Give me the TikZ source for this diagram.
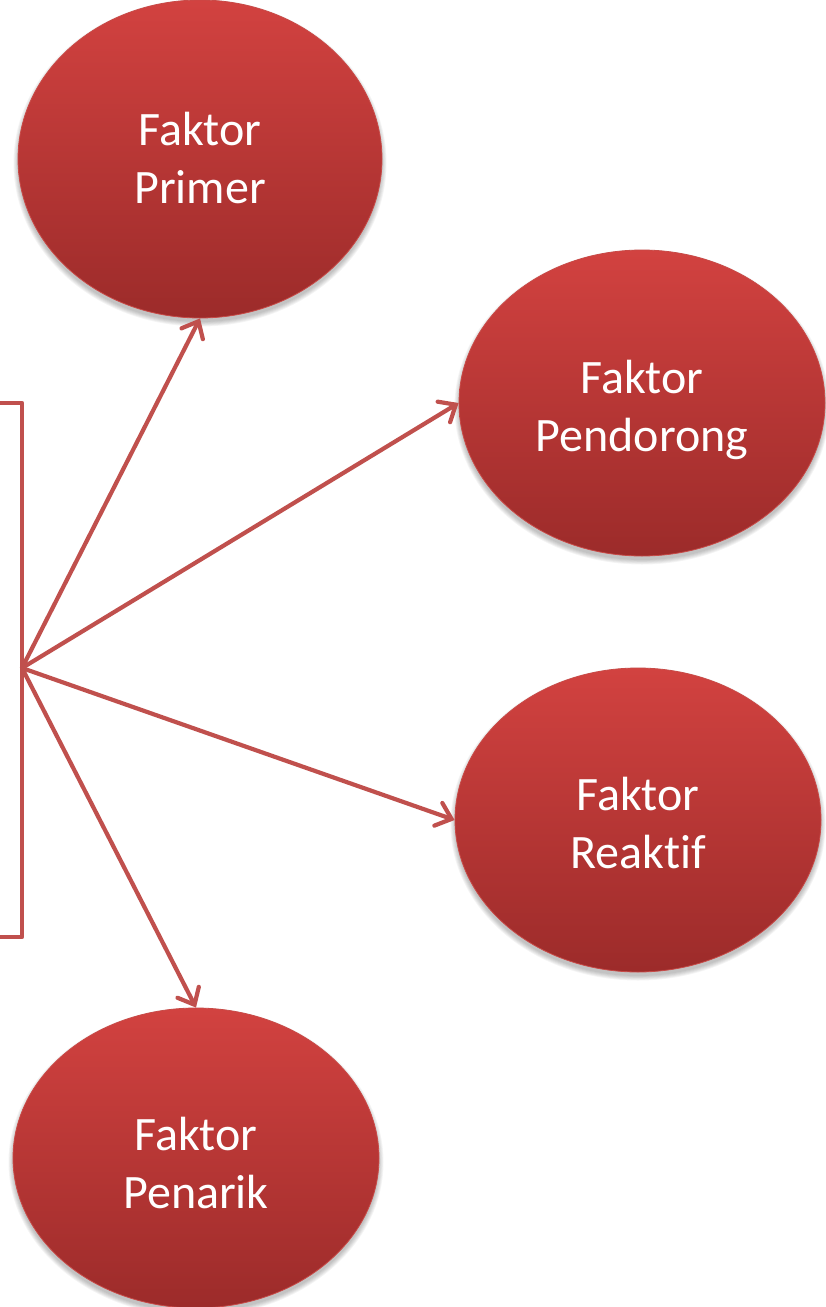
\documentclass[tikz,border=0pt]{standalone}
\usepackage{fontspec}
\setmainfont{Carlito}[Ligatures=NoCommon]
\usetikzlibrary{shapes.geometric,arrows.meta}
\definecolor{linkred}{HTML}{C0504D}
\definecolor{balltop}{HTML}{D24240}
\definecolor{ballbot}{HTML}{9C2B2A}
\definecolor{ballrim}{HTML}{C84A47}
\tikzset{
  factor/.style={ellipse, inner sep=0pt, top color=balltop, bottom color=ballbot,
    draw=ballrim, line width=0.8pt, text=white,
    font=\fontsize{48}{58}\selectfont},
  link/.style={draw=linkred, line width=4.2pt, line cap=round,
    -{Straight Barb[length=14pt,width=24pt,line cap=round]}},
  bracket/.style={draw=linkred, line width=4.2pt, line join=round}
}
% soft shadow under an ellipse: centre, half width, half height
\newcommand\ballshadow[3]{%
  \foreach \k in {0,...,5}{
    \fill[black, opacity=0.045] (#1) ++(0,4) ellipse ({#2+\k*0.9} and {#3+\k*0.9});
  }}
% two centred lines of a label, shifted by #1 around the node centre
\newcommand\twolines[3]{\raisebox{#1}[0pt][0pt]{\begin{tabular}{@{}c@{}}#2\\#3\end{tabular}}}
\begin{document}
\begin{tikzpicture}[x=1pt,y=-1pt]
\useasboundingbox (0,0) rectangle (825,1307);
\ballshadow{200,159}{182}{159}
\ballshadow{642,403}{183}{153}
\ballshadow{638,820}{183}{152}
\ballshadow{196,1158}{183}{150}
\node[factor, minimum width=364pt, minimum height=318pt] (primer) at (200,159) {\twolines{-10pt}{Faktor}{Primer}};
\node[factor, minimum width=366pt, minimum height=306pt] (pendorong) at (642,403) {\twolines{-14pt}{Faktor}{Pendorong}};
\node[factor, minimum width=366pt, minimum height=304pt] (reaktif) at (638,820) {\twolines{-14pt}{Faktor}{Reaktif}};
\node[factor, minimum width=366pt, minimum height=300pt] (penarik) at (196,1158) {\twolines{-16pt}{Faktor}{Penarik}};
\coordinate (hub) at (22,668);
\draw[bracket] (0,403) -- (22,403) -- (22,937) -- (0,937);
\draw[link] (hub) -- (primer.south);
\draw[link] (hub) -- (pendorong.west);
\draw[link] (hub) -- (reaktif.west);
\draw[link] (hub) -- (penarik.north);
\end{tikzpicture}
\end{document}
